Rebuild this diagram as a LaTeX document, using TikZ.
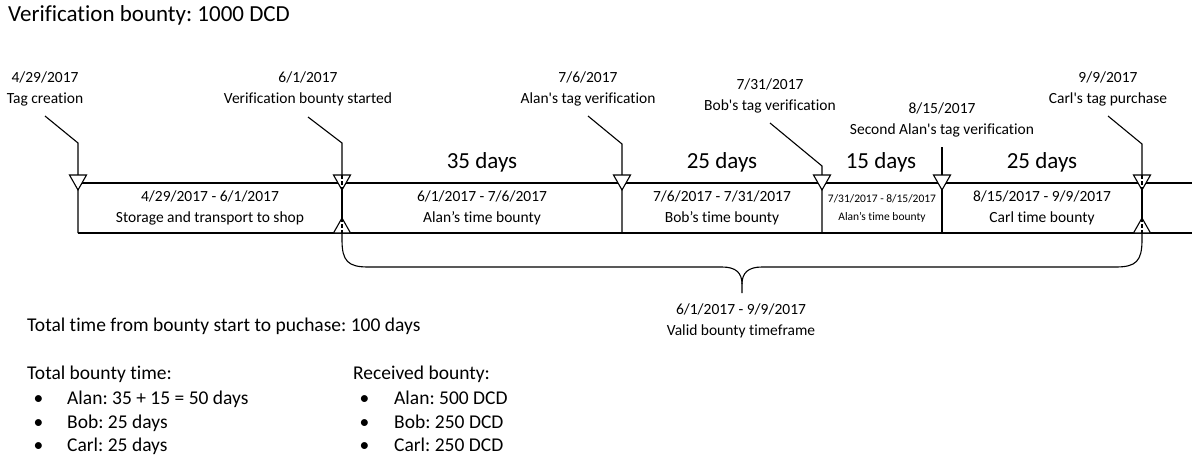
\documentclass[tikz,border=0pt]{standalone}
\usepackage{fontspec}
\setmainfont{Carlito}[Ligatures={TeX,NoCommon}]
\frenchspacing
\begin{document}
\begin{tikzpicture}[x=1pt,y=-1pt,
  ln/.style={line width=1.1pt},
  lbl/.style={font=\fontsize{15.5}{21.5}\selectfont, align=center, inner sep=0pt},
  dayl/.style={font=\fontsize{23}{27}\selectfont, inner sep=0pt},
  sml/.style={font=\fontsize{11.5}{18}\selectfont, align=center, inner sep=0pt},
  body/.style={font=\fontsize{19.5}{24}\selectfont, anchor=base west, inner sep=0pt},
  dtri/.pic={\draw[ln,fill=white] (-8.5,0) -- (8.5,0) -- (0,15) -- cycle;},
  utri/.pic={\draw[ln,fill=white] (-8.5,0) -- (8.5,0) -- (0,-15) -- cycle;},
  dsh/.style={ln, dash pattern=on 4pt off 2pt}]
\useasboundingbox (0,0) rectangle (1192,455);

% title
\node[font=\fontsize{23}{27}\selectfont, anchor=base west, inner sep=0pt] (title) at (8,21) {Verification bounty: 1000 DCD};

% top labels
\node[lbl] (L1) at (45,89) {4/29/2017\\Tag creation};
\node[lbl] (L2) at (308,89) {6/1/2017\\Verification bounty started};
\node[lbl] (L3) at (588,89) {7/6/2017\\Alan\textquotesingle s tag verification};
\node[lbl] (L4) at (770,96) {7/31/2017\\Bob\textquotesingle s tag verification};
\node[lbl] (L5) at (942,120) {8/15/2017\\Second Alan\textquotesingle s tag verification};
\node[lbl] (L6) at (1108,89) {9/9/2017\\Carl\textquotesingle s tag purchase};

% leader start points and marker points
\coordinate (k1) at (45,116);  \coordinate (m1) at (78,143);
\coordinate (k2) at (308,117); \coordinate (m2) at (342,143);
\coordinate (k3) at (588,116); \coordinate (m3) at (622,144);
\coordinate (k4) at (770,123); \coordinate (m4) at (822,166);
\coordinate (k5) at (942,147);
\coordinate (k6) at (1108,116); \coordinate (m6) at (1142,144);

% band
\draw[ln] (78,183) -- (1192,183);
\draw[ln] (78,233) -- (1192,233);

% leaders and dividers
\draw[ln] (k1) -- (m1) -- (78,233);
\draw[ln] (k2) -- (m2) -- (342,175);
\draw[ln] (342,190) -- (342,218);
\draw[ln] (k3) -- (m3) -- (622,233);
\draw[ln] (k4) -- (m4) -- (822,233);
\draw[ln] (k5) -- (942,233);
\draw[ln] (k6) -- (m6) -- (1142,175);
\draw[ln] (1142,190) -- (1142,218);

% triangles
\foreach \xx in {78,342,622,822,942,1142} { \pic at (\xx,175) {dtri}; }
\pic at (342,233) {utri};
\pic at (1142,233) {utri};
\draw[dsh] (342,175) -- (342,190);
\draw[dsh] (342,218) -- (342,233);
\draw[dsh] (1142,175) -- (1142,190);
\draw[dsh] (1142,218) -- (1142,233);

% durations
\node[dayl] (d1) at (482,162) {35 days};
\node[dayl] (d2) at (722,162) {25 days};
\node[dayl] (d3) at (881,162) {15 days};
\node[dayl] (d4) at (1042,162) {25 days};

% box labels
\node[lbl] (b1) at (210,208) {4/29/2017 - 6/1/2017\\Storage and transport to shop};
\node[lbl] (b2) at (482,208) {6/1/2017 - 7/6/2017\\Alan’s time bounty};
\node[lbl] (b3) at (722,208) {7/6/2017 - 7/31/2017\\Bob’s time bounty};
\node[sml] (b4) at (882,208) {7/31/2017 - 8/15/2017\\Alan’s time bounty};
\node[lbl] (b5) at (1042,208) {8/15/2017 - 9/9/2017\\Carl time bounty};

% brace
\coordinate (bl) at (342,233);
\coordinate (br) at (1142,233);
\coordinate (cusp) at (742,284);
\coordinate (tip) at (742,293);
\draw[ln] (bl) -- (342,240) .. controls (342,261) and (348,267) .. (368,267) -- (722,267)
  .. controls (736,267) and (742,273) .. (cusp) -- (tip);
\draw[ln] (cusp) .. controls (742,273) and (748,267) .. (762,267) -- (1116,267)
  .. controls (1136,267) and (1142,261) .. (1142,240) -- (br);
\node[lbl] (v) at (741,321) {6/1/2017 - 9/9/2017\\Valid bounty timeframe};

% bottom text
\node[body] (tt) at (27,331) {Total time from bounty start to puchase: 100 days};
\node[body] (tb) at (27,379) {Total bounty time:};
\node[body] (ba) at (33.5,404) {\textbullet};
\node[body] (bb) at (33.5,428) {\textbullet};
\node[body] (bc) at (33.5,451) {\textbullet};
\node[body] (ta) at (67,404) {Alan: 35 + 15 = 50 days};
\node[body] (tbb) at (67,428) {Bob: 25 days};
\node[body] (tc) at (67,451) {Carl: 25 days};

\node[body] (rb) at (353,379) {Received bounty:};
\node[body] (ra) at (359.5,404) {\textbullet};
\node[body] (rbb) at (359.5,428) {\textbullet};
\node[body] (rc) at (359.5,451) {\textbullet};
\node[body] (qa) at (394,404) {Alan: 500 DCD};
\node[body] (qb) at (394,428) {Bob: 250 DCD};
\node[body] (qc) at (394,451) {Carl: 250 DCD};
\end{tikzpicture}
\end{document}
